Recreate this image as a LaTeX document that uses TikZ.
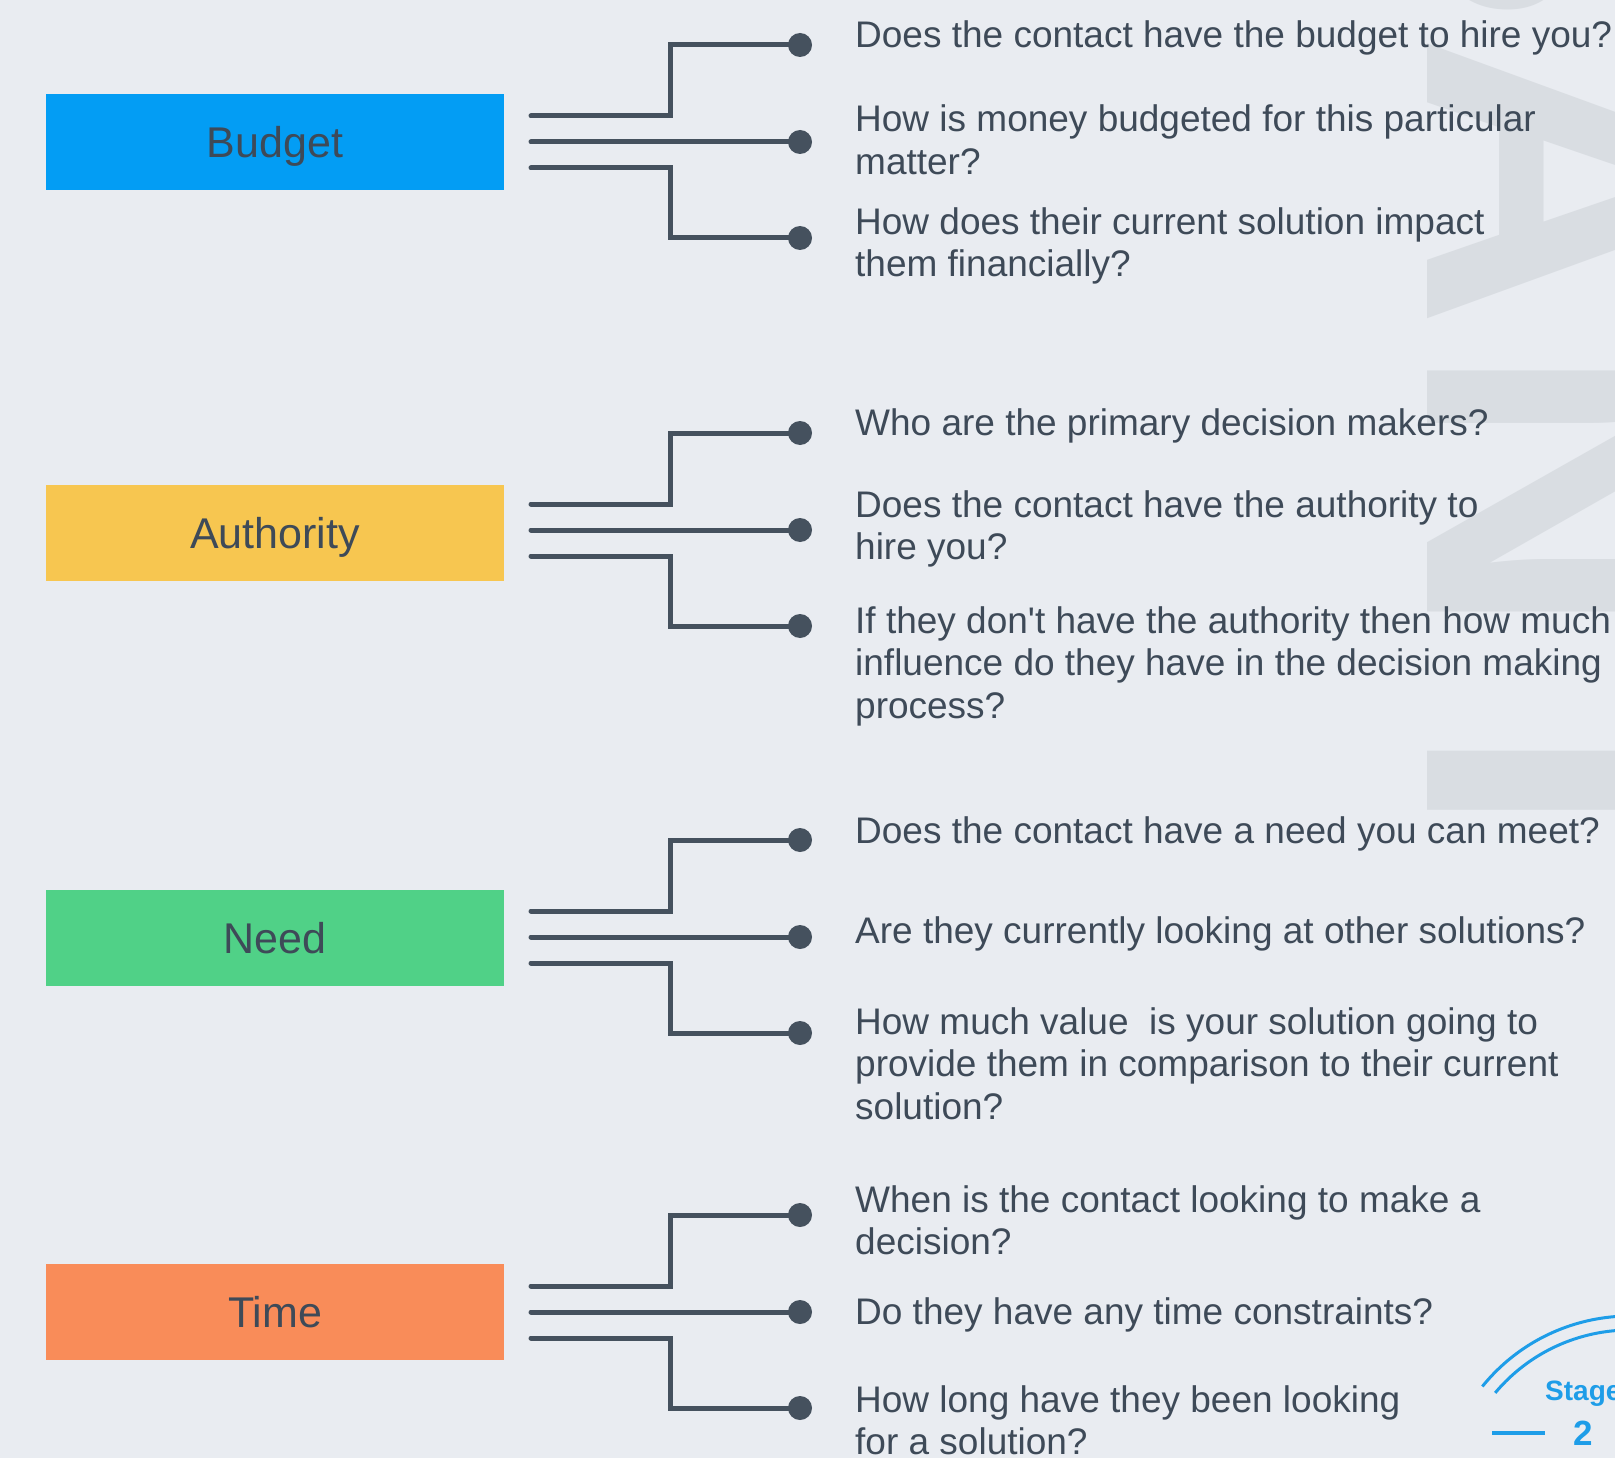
\documentclass[tikz,border=0pt]{standalone}
\usepackage{fontspec}
\setmainfont{Liberation Sans}
\usetikzlibrary{positioning}

\definecolor{bgcol}{HTML}{E9ECF1}
\definecolor{markcol}{HTML}{D9DDE2}
\definecolor{inkcol}{HTML}{3E4A58}
\definecolor{wirecol}{HTML}{45515E}
\definecolor{budgetcol}{HTML}{039DF4}
\definecolor{authcol}{HTML}{F7C650}
\definecolor{needcol}{HTML}{50D187}
\definecolor{timecol}{HTML}{F98C59}
\definecolor{stagecol}{HTML}{1E9DE8}

\tikzset{
	catbox/.style={minimum width=458pt,minimum height=96pt,inner sep=0pt,text depth=0pt,text=inkcol,font=\fontsize{43}{50}\selectfont},
	wire/.style={wirecol,line width=5pt,line cap=round},
	enddot/.style={circle,fill=wirecol,minimum size=24pt,inner sep=0pt},
	question/.style={anchor=base west,align=left,inner sep=0pt,text=inkcol,font=\fontsize{37}{42.5}\selectfont},	%base = last line
	watermark/.style={rotate=-90,anchor=base west,inner sep=0pt,text=markcol,font=\fontsize{410}{410}\selectfont\bfseries},
}

\begin{document}
\begin{tikzpicture}[x=1pt,y=-1pt]
	%BACKGROUND (pixel units, y down)
	\useasboundingbox (0,0) rectangle (1615,1458);
	\fill[bgcol] (0,0) rectangle (1615,1458);
	\begin{scope}
	\clip (0,0) rectangle (1615,1458);
	%WATERMARK, cut off at the right edge
	\node[watermark] (mark-b) at (1427,-268) {B};
	\node[watermark] (mark-a) at (1427,33) {A};
	\node[watermark] (mark-n) at (1427,343) {N};
	\node[watermark] (mark-t) at (1427,655) {T};
	%STAGE BADGE, bottom right
	\draw[stagecol,line width=3pt] ([shift={(141:190pt)}]1630,1506) arc[start angle=141,end angle=60,radius=190pt];	%outer ring
	\draw[stagecol,line width=3pt] ([shift={(140:176pt)}]1630,1506) arc[start angle=140,end angle=60,radius=176pt];	%inner ring
	\node[anchor=base west,inner sep=0pt,text=stagecol,font=\fontsize{28}{30}\selectfont\bfseries] (stage-label) at (1545,1400) {Stage};
	\node[anchor=base,inner sep=0pt,text=stagecol,font=\fontsize{35}{38}\selectfont\bfseries] (stage-num) at (1583,1445) {2};
	\draw[stagecol,line width=3.5pt] (1492,1433)--(1545,1433);	%dash
	\end{scope}

	%BOXES
	\node[catbox,fill=budgetcol] (budget) at (275,142) {Budget};
	\node[catbox,fill=authcol] (authority) at (275,533) {Authority};
	\node[catbox,fill=needcol] (need) at (275,938) {Need};
	\node[catbox,fill=timecol] (time) at (275,1312) {Time};

	%DOTS
	\node[enddot] (budget-q1) at (800,45) {};	\node[enddot] (budget-q2) at (800,142) {};	\node[enddot] (budget-q3) at (800,238) {};
	\node[enddot] (authority-q1) at (800,433) {};	\node[enddot] (authority-q2) at (800,530) {};	\node[enddot] (authority-q3) at (800,626) {};
	\node[enddot] (need-q1) at (800,840) {};	\node[enddot] (need-q2) at (800,937) {};	\node[enddot] (need-q3) at (800,1033) {};
	\node[enddot] (time-q1) at (800,1215) {};	\node[enddot] (time-q2) at (800,1312) {};	\node[enddot] (time-q3) at (800,1408) {};

	%WIRE STARTS
	\coordinate (budget-w1) at (531,116);	\coordinate (budget-w2) at (531,142);	\coordinate (budget-w3) at (531,168);
	\coordinate (authority-w1) at (531,504);	\coordinate (authority-w2) at (531,530);	\coordinate (authority-w3) at (531,556);
	\coordinate (need-w1) at (531,911);	\coordinate (need-w2) at (531,937);	\coordinate (need-w3) at (531,963);
	\coordinate (time-w1) at (531,1286);	\coordinate (time-w2) at (531,1312);	\coordinate (time-w3) at (531,1338);

	%WIRES
	\draw[wire] (budget-w1) -- ++(139,0) |- (budget-q1.center);
	\draw[wire] (budget-w2) -- (budget-q2.center);
	\draw[wire] (budget-w3) -- ++(139,0) |- (budget-q3.center);
	%
	\draw[wire] (authority-w1) -- ++(139,0) |- (authority-q1.center);
	\draw[wire] (authority-w2) -- (authority-q2.center);
	\draw[wire] (authority-w3) -- ++(139,0) |- (authority-q3.center);
	%
	\draw[wire] (need-w1) -- ++(139,0) |- (need-q1.center);
	\draw[wire] (need-w2) -- (need-q2.center);
	\draw[wire] (need-w3) -- ++(139,0) |- (need-q3.center);
	%
	\draw[wire] (time-w1) -- ++(139,0) |- (time-q1.center);
	\draw[wire] (time-w2) -- (time-q2.center);
	\draw[wire] (time-w3) -- ++(139,0) |- (time-q3.center);

	%QUESTIONS (y = baseline of last line)
	\node[question] (budget-t1) at (855,48) {Does the contact have the budget to hire you?};
	\node[question] (budget-t2) at (855,174.5) {How is money budgeted for this particular\\matter?};
	\node[question] (budget-t3) at (855,276.5) {How does their current solution impact\\them financially?};
	%
	\node[question] (authority-t1) at (855,435) {Who are the primary decision makers?};
	\node[question] (authority-t2) at (855,559.5) {Does the contact have the authority to\\hire you?};
	\node[question] (authority-t3) at (855,718) {If they don\textquotesingle t have the authority then how much\\influence do they have in the decision making\\process?};
	%
	\node[question] (need-t1) at (855,843) {Does the contact have a need you can meet?};
	\node[question] (need-t2) at (855,943) {Are they currently looking at other solutions?};
	\node[question] (need-t3) at (855,1119) {How much value~ is your solution going to\\provide them in comparison to their current\\solution?};
	%
	\node[question] (time-t1) at (855,1254.5) {When is the contact looking to make a\\decision?};
	\node[question] (time-t2) at (855,1324) {Do they have any time constraints?};
	\node[question] (time-t3) at (855,1454.5) {How long have they been looking\\for a solution?};
\end{tikzpicture}
\end{document}
